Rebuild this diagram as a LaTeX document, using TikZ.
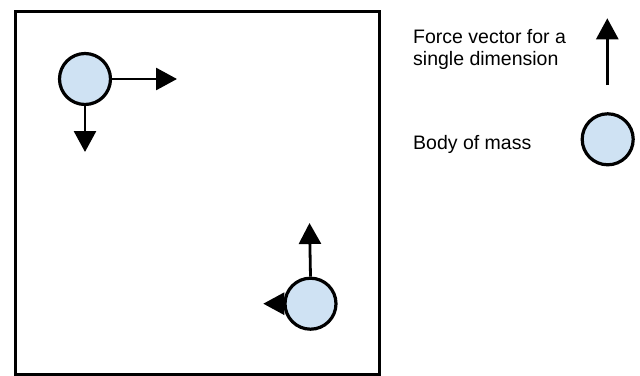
\documentclass[tikz,border=0pt]{standalone}
\usepackage{fontspec}
\setmainfont{Liberation Sans}
\usetikzlibrary{arrows.meta,backgrounds}
\definecolor{massblue}{HTML}{CFE2F3}
\begin{document}
\begin{tikzpicture}[x=1pt,y=-1pt,
  mass/.style={circle,draw=black,line width=3.2pt,fill=massblue,minimum size=51pt,inner sep=0pt},
  force/.style={line width=2.8pt,-{Triangle[length=21pt,width=22pt]}},
  legendtext/.style={font=\fontsize{19.5}{22}\selectfont,inner sep=0pt,align=left}]
\useasboundingbox (0,0) rectangle (640,375);
\node[draw=black,line width=3pt,minimum width=363.8pt,minimum height=362.8pt,inner sep=0pt,anchor=north west] (box) at (13.7,9.7) {};
% body 1
\node[mass] (m1) at (85,79) {};
\coordinate (t1) at (177,79);
\coordinate (t2) at (85,152);
\draw[force] (m1.east) -- (t1);
\draw[force] (m1.south) -- (t2);
% body 2
\node[mass] (m2) at (310.5,303.7) {};
\coordinate (t3) at (309.5,223);
\coordinate (t4) at (263.3,303.7);
\draw[force] (m2.north) -- (t3);
\begin{scope}[on background layer]
\draw[force] (m2.center) -- (t4);
\end{scope}
% legend
\node[legendtext,anchor=base west] (l1) at (413,65) {Force vector for a\\single dimension};
\coordinate (lb) at (607.3,85);
\coordinate (lt) at (607.3,18.3);
\draw[force] (lb) -- (lt);
\node[legendtext,anchor=base west] (l2) at (413,149) {Body of mass};
\node[mass] (lm) at (607.7,139.3) {};
\end{tikzpicture}
\end{document}
